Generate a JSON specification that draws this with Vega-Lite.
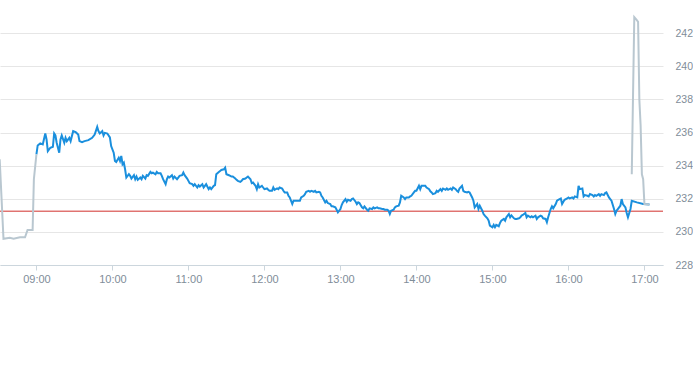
{
"$schema": "https://vega.github.io/schema/vega-lite/v6.json",
"width": 663, "height": 265,
"autosize": "none",
"padding": {"left": 0, "top": 0, "right": 30, "bottom": 100},
"background": "white",
"config": {"view": {"stroke": null}},
"data": {"format": {"parse": {"t": "date:'%H:%M'"}}, "values": [
{"t":"08:31","v":234.38,"s":"p"},{"t":"08:34","v":229.58,"s":"p"},{"t":"08:39","v":229.64,"s":"p"},{"t":"08:42","v":229.58,"s":"p"},{"t":"08:47","v":229.67,"s":"p"},{"t":"08:51","v":229.67,"s":"p"},{"t":"08:53","v":230.12,"s":"p"},{"t":"08:57","v":230.12,"s":"p"},{"t":"08:58","v":233.18,"s":"p"},{"t":"09:00","v":234.68,"s":"p"},
{"t":"09:00","v":234.68,"s":"r"},{"t":"09:01","v":235.22,"s":"r"},{"t":"09:03","v":235.34,"s":"r"},{"t":"09:05","v":235.28,"s":"r"},{"t":"09:07","v":235.94,"s":"r"},{"t":"09:08","v":235.58,"s":"r"},{"t":"09:09","v":234.88,"s":"r"},{"t":"09:11","v":235.08,"s":"r"},{"t":"09:13","v":235.14,"s":"r"},{"t":"09:14","v":235.94,"s":"r"},{"t":"09:15","v":235.82,"s":"r"},{"t":"09:16","v":235.38,"s":"r"},{"t":"09:18","v":234.78,"s":"r"},{"t":"09:19","v":235.58,"s":"r"},{"t":"09:20","v":235.82,"s":"r"},{"t":"09:22","v":235.38,"s":"r"},{"t":"09:23","v":235.68,"s":"r"},{"t":"09:24","v":235.48,"s":"r"},{"t":"09:26","v":235.68,"s":"r"},{"t":"09:27","v":235.48,"s":"r"},{"t":"09:29","v":236.08,"s":"r"},{"t":"09:31","v":236.02,"s":"r"},{"t":"09:33","v":235.88,"s":"r"},{"t":"09:34","v":235.48,"s":"r"},{"t":"09:36","v":235.42,"s":"r"},{"t":"09:38","v":235.48,"s":"r"},{"t":"09:41","v":235.54,"s":"r"},{"t":"09:44","v":235.68,"s":"r"},{"t":"09:46","v":235.88,"s":"r"},{"t":"09:48","v":236.34,"s":"r"},{"t":"09:49","v":236.08,"s":"r"},{"t":"09:50","v":235.94,"s":"r"},{"t":"09:52","v":236.08,"s":"r"},{"t":"09:53","v":235.82,"s":"r"},{"t":"09:54","v":235.98,"s":"r"},{"t":"09:56","v":235.94,"s":"r"},{"t":"09:58","v":235.7,"s":"r"},{"t":"09:59","v":235.18,"s":"r"},
{"t":"10:01","v":234.78,"s":"r"},{"t":"10:02","v":234.28,"s":"r"},{"t":"10:03","v":234.22,"s":"r"},{"t":"10:05","v":234.48,"s":"r"},{"t":"10:06","v":234.28,"s":"r"},{"t":"10:07","v":234.58,"s":"r"},{"t":"10:08","v":234.08,"s":"r"},{"t":"10:09","v":234.18,"s":"r"},{"t":"10:10","v":233.78,"s":"r"},{"t":"10:11","v":233.28,"s":"r"},{"t":"10:13","v":233.48,"s":"r"},{"t":"10:14","v":233.38,"s":"r"},{"t":"10:15","v":233.22,"s":"r"},{"t":"10:17","v":233.42,"s":"r"},{"t":"10:18","v":233.18,"s":"r"},{"t":"10:19","v":233.34,"s":"r"},{"t":"10:20","v":233.14,"s":"r"},{"t":"10:22","v":233.28,"s":"r"},{"t":"10:23","v":233.18,"s":"r"},{"t":"10:24","v":233.38,"s":"r"},{"t":"10:26","v":233.22,"s":"r"},{"t":"10:27","v":233.42,"s":"r"},{"t":"10:28","v":233.38,"s":"r"},{"t":"10:30","v":233.62,"s":"r"},{"t":"10:31","v":233.54,"s":"r"},{"t":"10:32","v":233.58,"s":"r"},{"t":"10:34","v":233.48,"s":"r"},{"t":"10:35","v":233.62,"s":"r"},{"t":"10:36","v":233.54,"s":"r"},{"t":"10:38","v":233.54,"s":"r"},{"t":"10:39","v":233.38,"s":"r"},{"t":"10:40","v":233.18,"s":"r"},{"t":"10:42","v":232.88,"s":"r"},{"t":"10:43","v":233.18,"s":"r"},{"t":"10:44","v":233.34,"s":"r"},{"t":"10:45","v":233.28,"s":"r"},{"t":"10:47","v":233.42,"s":"r"},{"t":"10:48","v":233.22,"s":"r"},{"t":"10:49","v":233.34,"s":"r"},{"t":"10:51","v":233.18,"s":"r"},{"t":"10:52","v":233.28,"s":"r"},{"t":"10:53","v":233.38,"s":"r"},{"t":"10:55","v":233.42,"s":"r"},{"t":"10:56","v":233.58,"s":"r"},{"t":"10:57","v":233.42,"s":"r"},{"t":"10:59","v":233.22,"s":"r"},{"t":"11:00","v":233.08,"s":"r"},{"t":"11:01","v":232.94,"s":"r"},{"t":"11:03","v":232.88,"s":"r"},
{"t":"11:04","v":232.78,"s":"r"},{"t":"11:05","v":232.88,"s":"r"},{"t":"11:07","v":232.68,"s":"r"},{"t":"11:08","v":232.82,"s":"r"},{"t":"11:09","v":232.74,"s":"r"},{"t":"11:11","v":232.88,"s":"r"},{"t":"11:12","v":232.68,"s":"r"},{"t":"11:13","v":232.78,"s":"r"},{"t":"11:14","v":232.88,"s":"r"},{"t":"11:16","v":232.58,"s":"r"},{"t":"11:17","v":232.68,"s":"r"},{"t":"11:18","v":232.58,"s":"r"},{"t":"11:20","v":232.78,"s":"r"},{"t":"11:21","v":232.82,"s":"r"},{"t":"11:22","v":233.48,"s":"r"},{"t":"11:24","v":233.62,"s":"r"},{"t":"11:25","v":233.68,"s":"r"},{"t":"11:26","v":233.74,"s":"r"},{"t":"11:28","v":233.78,"s":"r"},{"t":"11:29","v":233.88,"s":"r"},{"t":"11:30","v":233.48,"s":"r"},{"t":"11:32","v":233.42,"s":"r"},{"t":"11:33","v":233.38,"s":"r"},{"t":"11:34","v":233.34,"s":"r"},{"t":"11:35","v":233.34,"s":"r"},{"t":"11:37","v":233.22,"s":"r"},{"t":"11:38","v":233.14,"s":"r"},{"t":"11:39","v":233.08,"s":"r"},{"t":"11:41","v":233.02,"s":"r"},{"t":"11:42","v":233.08,"s":"r"},{"t":"11:43","v":233.18,"s":"r"},{"t":"11:45","v":233.22,"s":"r"},{"t":"11:46","v":233.28,"s":"r"},{"t":"11:47","v":233.34,"s":"r"},{"t":"11:49","v":233.18,"s":"r"},{"t":"11:50","v":232.94,"s":"r"},{"t":"11:51","v":232.98,"s":"r"},{"t":"11:53","v":232.78,"s":"r"},{"t":"11:54","v":232.58,"s":"r"},{"t":"11:55","v":232.88,"s":"r"},{"t":"11:56","v":232.68,"s":"r"},{"t":"11:58","v":232.78,"s":"r"},{"t":"11:59","v":232.68,"s":"r"},{"t":"12:00","v":232.58,"s":"r"},{"t":"12:02","v":232.62,"s":"r"},{"t":"12:03","v":232.54,"s":"r"},{"t":"12:04","v":232.48,"s":"r"},
{"t":"12:06","v":232.48,"s":"r"},{"t":"12:07","v":232.68,"s":"r"},{"t":"12:08","v":232.54,"s":"r"},{"t":"12:10","v":232.62,"s":"r"},{"t":"12:11","v":232.58,"s":"r"},{"t":"12:12","v":232.68,"s":"r"},{"t":"12:14","v":232.62,"s":"r"},{"t":"12:15","v":232.48,"s":"r"},{"t":"12:16","v":232.38,"s":"r"},{"t":"12:18","v":232.38,"s":"r"},{"t":"12:19","v":232.18,"s":"r"},{"t":"12:20","v":232.08,"s":"r"},{"t":"12:22","v":231.68,"s":"r"},{"t":"12:23","v":231.88,"s":"r"},{"t":"12:25","v":231.88,"s":"r"},{"t":"12:28","v":231.88,"s":"r"},{"t":"12:29","v":232.08,"s":"r"},{"t":"12:31","v":232.18,"s":"r"},{"t":"12:32","v":232.28,"s":"r"},{"t":"12:33","v":232.42,"s":"r"},{"t":"12:35","v":232.48,"s":"r"},{"t":"12:36","v":232.42,"s":"r"},{"t":"12:37","v":232.48,"s":"r"},{"t":"12:39","v":232.42,"s":"r"},{"t":"12:40","v":232.48,"s":"r"},{"t":"12:41","v":232.38,"s":"r"},{"t":"12:43","v":232.42,"s":"r"},{"t":"12:44","v":232.38,"s":"r"},{"t":"12:45","v":232.18,"s":"r"},{"t":"12:46","v":232.08,"s":"r"},{"t":"12:48","v":231.78,"s":"r"},{"t":"12:49","v":231.88,"s":"r"},{"t":"12:50","v":231.74,"s":"r"},{"t":"12:52","v":231.68,"s":"r"},{"t":"12:53","v":231.54,"s":"r"},{"t":"12:54","v":231.54,"s":"r"},{"t":"12:56","v":231.48,"s":"r"},{"t":"12:57","v":231.34,"s":"r"},{"t":"12:58","v":231.18,"s":"r"},{"t":"13:00","v":231.38,"s":"r"},{"t":"13:01","v":231.62,"s":"r"},{"t":"13:02","v":231.78,"s":"r"},{"t":"13:04","v":231.98,"s":"r"},{"t":"13:05","v":231.82,"s":"r"},{"t":"13:06","v":231.94,"s":"r"},{"t":"13:08","v":231.88,"s":"r"},{"t":"13:09","v":231.98,"s":"r"},
{"t":"13:10","v":232.02,"s":"r"},{"t":"13:12","v":231.82,"s":"r"},{"t":"13:13","v":231.68,"s":"r"},{"t":"13:14","v":231.78,"s":"r"},{"t":"13:15","v":231.74,"s":"r"},{"t":"13:17","v":231.48,"s":"r"},{"t":"13:18","v":231.42,"s":"r"},{"t":"13:19","v":231.54,"s":"r"},{"t":"13:21","v":231.34,"s":"r"},{"t":"13:22","v":231.28,"s":"r"},{"t":"13:23","v":231.42,"s":"r"},{"t":"13:25","v":231.38,"s":"r"},{"t":"13:26","v":231.48,"s":"r"},{"t":"13:27","v":231.42,"s":"r"},{"t":"13:29","v":231.48,"s":"r"},{"t":"13:30","v":231.42,"s":"r"},{"t":"13:31","v":231.42,"s":"r"},{"t":"13:33","v":231.38,"s":"r"},{"t":"13:34","v":231.38,"s":"r"},{"t":"13:35","v":231.34,"s":"r"},{"t":"13:37","v":231.34,"s":"r"},{"t":"13:38","v":231.28,"s":"r"},{"t":"13:39","v":231.08,"s":"r"},{"t":"13:40","v":231.28,"s":"r"},{"t":"13:42","v":231.34,"s":"r"},{"t":"13:43","v":231.48,"s":"r"},{"t":"13:44","v":231.54,"s":"r"},{"t":"13:46","v":231.58,"s":"r"},{"t":"13:47","v":231.78,"s":"r"},{"t":"13:48","v":232.18,"s":"r"},{"t":"13:50","v":232.08,"s":"r"},{"t":"13:51","v":231.98,"s":"r"},{"t":"13:52","v":232.08,"s":"r"},{"t":"13:54","v":232.08,"s":"r"},{"t":"13:55","v":232.14,"s":"r"},{"t":"13:56","v":232.18,"s":"r"},{"t":"13:58","v":232.38,"s":"r"},{"t":"13:59","v":232.48,"s":"r"},{"t":"14:00","v":232.48,"s":"r"},{"t":"14:02","v":232.78,"s":"r"},{"t":"14:03","v":232.58,"s":"r"},{"t":"14:04","v":232.78,"s":"r"},{"t":"14:06","v":232.78,"s":"r"},{"t":"14:07","v":232.78,"s":"r"},{"t":"14:08","v":232.68,"s":"r"},{"t":"14:10","v":232.58,"s":"r"},{"t":"14:11","v":232.45,"s":"r"},
{"t":"14:12","v":232.38,"s":"r"},{"t":"14:13","v":232.28,"s":"r"},{"t":"14:15","v":232.34,"s":"r"},{"t":"14:16","v":232.48,"s":"r"},{"t":"14:17","v":232.42,"s":"r"},{"t":"14:19","v":232.58,"s":"r"},{"t":"14:20","v":232.48,"s":"r"},{"t":"14:21","v":232.62,"s":"r"},{"t":"14:23","v":232.54,"s":"r"},{"t":"14:24","v":232.62,"s":"r"},{"t":"14:25","v":232.54,"s":"r"},{"t":"14:27","v":232.62,"s":"r"},{"t":"14:28","v":232.54,"s":"r"},{"t":"14:29","v":232.68,"s":"r"},{"t":"14:31","v":232.58,"s":"r"},{"t":"14:32","v":232.48,"s":"r"},{"t":"14:33","v":232.42,"s":"r"},{"t":"14:34","v":232.62,"s":"r"},{"t":"14:36","v":232.78,"s":"r"},{"t":"14:37","v":232.48,"s":"r"},{"t":"14:38","v":232.42,"s":"r"},{"t":"14:40","v":232.38,"s":"r"},{"t":"14:41","v":232.42,"s":"r"},{"t":"14:42","v":232.38,"s":"r"},{"t":"14:44","v":232.08,"s":"r"},{"t":"14:45","v":231.88,"s":"r"},{"t":"14:46","v":231.48,"s":"r"},{"t":"14:48","v":231.68,"s":"r"},{"t":"14:49","v":231.38,"s":"r"},{"t":"14:50","v":231.58,"s":"r"},{"t":"14:52","v":231.28,"s":"r"},{"t":"14:53","v":231.08,"s":"r"},{"t":"14:54","v":230.98,"s":"r"},{"t":"14:56","v":230.82,"s":"r"},{"t":"14:57","v":230.68,"s":"r"},{"t":"14:58","v":230.38,"s":"r"},{"t":"15:00","v":230.28,"s":"r"},{"t":"15:01","v":230.42,"s":"r"},{"t":"15:02","v":230.28,"s":"r"},{"t":"15:03","v":230.42,"s":"r"},{"t":"15:05","v":230.34,"s":"r"},{"t":"15:06","v":230.54,"s":"r"},{"t":"15:07","v":230.68,"s":"r"},{"t":"15:09","v":230.78,"s":"r"},{"t":"15:10","v":230.68,"s":"r"},{"t":"15:11","v":230.88,"s":"r"},{"t":"15:13","v":231.08,"s":"r"},{"t":"15:14","v":230.88,"s":"r"},{"t":"15:15","v":231.0,"s":"r"},
{"t":"15:17","v":230.82,"s":"r"},{"t":"15:18","v":230.78,"s":"r"},{"t":"15:19","v":230.78,"s":"r"},{"t":"15:21","v":230.82,"s":"r"},{"t":"15:22","v":230.88,"s":"r"},{"t":"15:23","v":230.98,"s":"r"},{"t":"15:24","v":231.02,"s":"r"},{"t":"15:26","v":231.14,"s":"r"},{"t":"15:27","v":230.88,"s":"r"},{"t":"15:28","v":230.98,"s":"r"},{"t":"15:30","v":230.88,"s":"r"},{"t":"15:31","v":230.94,"s":"r"},{"t":"15:32","v":230.88,"s":"r"},{"t":"15:34","v":230.98,"s":"r"},{"t":"15:35","v":230.78,"s":"r"},{"t":"15:36","v":230.88,"s":"r"},{"t":"15:38","v":230.98,"s":"r"},{"t":"15:39","v":230.94,"s":"r"},{"t":"15:40","v":230.82,"s":"r"},{"t":"15:42","v":230.78,"s":"r"},{"t":"15:43","v":230.58,"s":"r"},{"t":"15:44","v":230.88,"s":"r"},{"t":"15:46","v":231.38,"s":"r"},{"t":"15:47","v":231.54,"s":"r"},{"t":"15:48","v":231.42,"s":"r"},{"t":"15:50","v":231.68,"s":"r"},{"t":"15:51","v":231.88,"s":"r"},{"t":"15:52","v":231.94,"s":"r"},{"t":"15:54","v":232.02,"s":"r"},{"t":"15:55","v":231.68,"s":"r"},{"t":"15:56","v":231.82,"s":"r"},{"t":"15:57","v":231.94,"s":"r"},{"t":"15:59","v":232.02,"s":"r"},{"t":"16:00","v":232.08,"s":"r"},{"t":"16:01","v":232.02,"s":"r"},{"t":"16:03","v":232.08,"s":"r"},{"t":"16:04","v":232.02,"s":"r"},{"t":"16:05","v":232.14,"s":"r"},{"t":"16:07","v":232.08,"s":"r"},{"t":"16:08","v":232.78,"s":"r"},{"t":"16:09","v":232.58,"s":"r"},{"t":"16:11","v":232.62,"s":"r"},{"t":"16:12","v":232.14,"s":"r"},{"t":"16:13","v":232.22,"s":"r"},{"t":"16:15","v":232.18,"s":"r"},{"t":"16:16","v":232.14,"s":"r"},{"t":"16:17","v":232.28,"s":"r"},{"t":"16:19","v":232.22,"s":"r"},
{"t":"16:20","v":232.14,"s":"r"},{"t":"16:21","v":232.22,"s":"r"},{"t":"16:22","v":232.18,"s":"r"},{"t":"16:24","v":232.28,"s":"r"},{"t":"16:25","v":232.18,"s":"r"},{"t":"16:26","v":232.28,"s":"r"},{"t":"16:28","v":232.22,"s":"r"},{"t":"16:29","v":232.34,"s":"r"},{"t":"16:30","v":232.38,"s":"r"},{"t":"16:32","v":232.08,"s":"r"},{"t":"16:33","v":231.98,"s":"r"},{"t":"16:34","v":231.88,"s":"r"},{"t":"16:36","v":231.38,"s":"r"},{"t":"16:37","v":231.08,"s":"r"},{"t":"16:38","v":231.28,"s":"r"},{"t":"16:39","v":231.38,"s":"r"},{"t":"16:41","v":231.58,"s":"r"},{"t":"16:42","v":231.98,"s":"r"},{"t":"16:43","v":231.68,"s":"r"},{"t":"16:45","v":231.48,"s":"r"},{"t":"16:46","v":231.14,"s":"r"},{"t":"16:47","v":230.88,"s":"r"},{"t":"16:49","v":231.38,"s":"r"},{"t":"16:50","v":231.88,"s":"r"},{"t":"16:54","v":231.78,"s":"r"},{"t":"16:59","v":231.68,"s":"r"},{"t":"17:04","v":231.66,"s":"r"},
{"t":"16:50","v":233.48,"s":"q"},{"t":"16:52","v":242.96,"s":"q"},{"t":"16:54","v":242.78,"s":"q"},{"t":"16:55","v":242.68,"s":"q"},{"t":"16:56","v":237.98,"s":"q"},{"t":"16:57","v":236.42,"s":"q"},{"t":"16:58","v":233.48,"s":"q"},{"t":"16:59","v":233.18,"s":"q"},{"t":"17:00","v":231.68,"s":"q"},{"t":"17:04","v":231.66,"s":"q"}
]},
"encoding": {
  "y": {"field": "v", "type": "quantitative",
   "scale": {"domain": [228, 244], "zero": false, "nice": false},
   "axis": {"orient": "right", "values": [228, 230, 232, 234, 236, 238, 240, 242], "labelOverlap": false, "grid": true, "gridColor": "#e6e6e6", "domain": false, "ticks": false, "labelPadding": 12, "labelAlign": "left", "labelColor": "#7f8d99", "labelFontSize": 10.5, "labelFont": "Liberation Sans", "title": null}}
},
"layer": [
{"data": {"values": [{"v": 231.25}]},
 "mark": {"type": "rule", "color": "#d2302c", "strokeWidth": 1}},
{"transform": [{"filter": "datum.s === 'r'"}],
 "mark": {"type": "line", "color": "#1a8fdd", "strokeWidth": 2},
 "encoding": {
  "x": {"field": "t", "type": "temporal",
    "scale": {"domain": [{"year": 1900, "month": 1, "date": 1, "hours": 8, "minutes": 31, "seconds": 15}, {"year": 1900, "month": 1, "date": 1, "hours": 17, "minutes": 14, "seconds": 40}]},
    "axis": {"format": "%H:%M", "tickCount": 9, "labelOverlap": false, "grid": false, "domainColor": "#ccd6dd", "tickColor": "#ccd6dd", "tickSize": 5, "labelColor": "#7f8d99", "labelFontSize": 11, "labelFont": "Liberation Sans", "labelPadding": 3, "title": null}}}},
{"transform": [{"filter": "datum.s !== 'r'"}],
 "mark": {"type": "line", "color": "#b9c7d0", "strokeWidth": 2},
 "encoding": {
  "x": {"field": "t", "type": "temporal"},
  "detail": {"field": "s", "type": "nominal"}}}
]
}
